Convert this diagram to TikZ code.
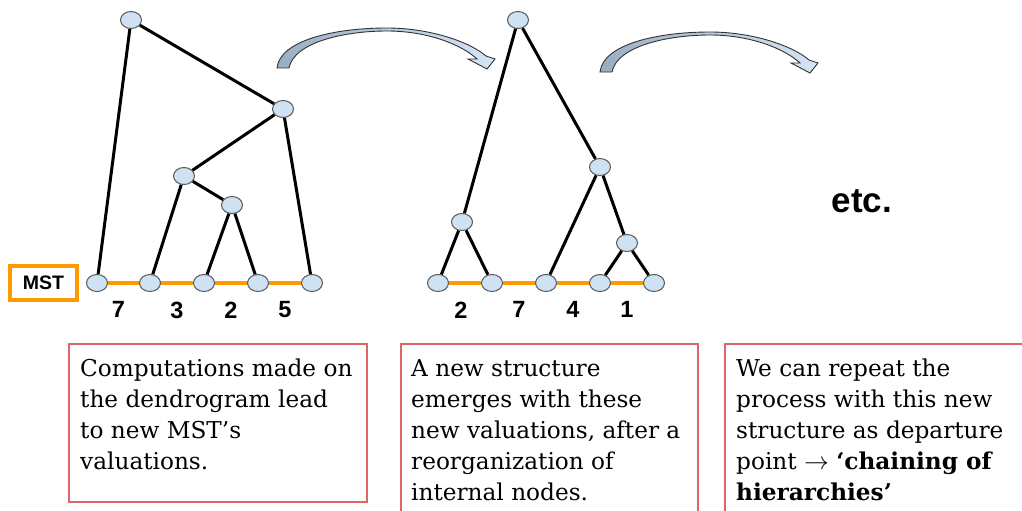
\documentclass[tikz,border=0pt]{standalone}
\usepackage{fontspec}
\setmainfont{DejaVu Serif}
\newfontfamily\labelfont{Liberation Sans}
\usepackage{tikz}
\usetikzlibrary{shapes.geometric,positioning}

\definecolor{vtxblue}{HTML}{CFE2F3}
\definecolor{mstorange}{HTML}{FF9900}
\definecolor{notered}{HTML}{E06666}
\definecolor{arrowdark}{HTML}{9AAEC3}
\definecolor{arrowlight}{HTML}{D4E5F6}

% outline of the bent block arrow (px units)
\newcommand{\bentarrowpath}{(277,68) .. controls (280,40) and (335,28) .. (387,28)
  .. controls (430,28) and (470,42) .. (486,56) -- (495,59) -- (487,69) -- (468,59)
  -- (477,59) .. controls (462,45) and (428,31) .. (387,31)
  .. controls (345,31) and (294,42) .. (289,68) -- cycle}

\begin{document}
\begin{tikzpicture}[
  x=1pt,y=-1pt,
  vtx/.style={ellipse,draw=black!65,fill=vtxblue,line width=1pt,
              minimum width=21pt,minimum height=17pt,inner sep=0pt},
  link/.style={line width=3pt},
  mst/.style={draw=mstorange,line width=3.2pt},
  num/.style={font=\labelfont\bfseries\fontsize{23.5}{23.5}\selectfont,inner sep=0pt},
  note/.style={draw=notered,line width=1.8pt,anchor=north west,inner sep=0pt},
  notetext/.style={anchor=north west,align=left,inner sep=0pt,
                   font=\fontsize{23.2}{31}\selectfont},
  bentarrow/.style={draw=black!80,line width=0.9pt,left color=arrowdark,right color=arrowlight}
]
\fill[white] (0,0) rectangle (1022,511);
\useasboundingbox (0,0) rectangle (1022,511);

% first dendrogram
\node[vtx] (a1) at (97,283) {};
\node[vtx] (a2) at (150,283) {};
\node[vtx] (a3) at (204,283) {};
\node[vtx] (a4) at (258,283) {};
\node[vtx] (a5) at (312,283) {};
\node[vtx] (r1) at (131,20) {};
\node[vtx] (r2) at (283,109) {};
\node[vtx] (r3) at (184,176) {};
\node[vtx] (r4) at (232,205) {};

\draw[link] (r1) -- (a1);
\draw[link] (r1) -- (r2);
\draw[link] (r2) -- (r3);
\draw[link] (r2) -- (a5);
\draw[link] (r3) -- (a2);
\draw[link] (r3) -- (r4);
\draw[link] (r4) -- (a3);
\draw[link] (r4) -- (a4);

\draw[mst] (a1) -- node[num,below=17pt,xshift=-5pt] (w1) {7} (a2)
               -- node[num,below=17pt] (w2) {3} (a3)
               -- node[num,below=17pt] (w3) {2} (a4)
               -- node[num,below=17pt] (w4) {5} (a5);

\node[mst,minimum width=67pt,minimum height=34pt,inner sep=0pt,
      font=\labelfont\bfseries\fontsize{19.5}{19.5}\selectfont] (mstbox) at (43.5,283)
      {\raisebox{-5pt}{MST}};

% second dendrogram
\node[vtx] (b1) at (438,283) {};
\node[vtx] (b2) at (492,283) {};
\node[vtx] (b3) at (546,283) {};
\node[vtx] (b4) at (600,283) {};
\node[vtx] (b5) at (654,283) {};
\node[vtx] (s1) at (518,20) {};
\node[vtx] (s2) at (462,222) {};
\node[vtx] (s3) at (600,167) {};
\node[vtx] (s4) at (627,243) {};

\draw[link] (s1) -- (s2);
\draw[link] (s1) -- (s3);
\draw[link] (s2) -- (b1);
\draw[link] (s2) -- (b2);
\draw[link] (s3) -- (b3);
\draw[link] (s3) -- (s4);
\draw[link] (s4) -- (b4);
\draw[link] (s4) -- (b5);

\draw[mst] (b1) -- node[num,below=17pt,xshift=-4pt] (v1) {2} (b2)
               -- node[num,below=17pt] (v2) {7} (b3)
               -- node[num,below=17pt] (v3) {4} (b4)
               -- node[num,below=17pt] (v4) {1} (b5);

% bent arrows
\path[bentarrow] \bentarrowpath;
\begin{scope}[shift={(323,4)}]
\path[bentarrow] \bentarrowpath;
\end{scope}

\node[font=\labelfont\bfseries\fontsize{35}{35}\selectfont] (etc) at (862,201) {etc.};

% comments below
\node[note,minimum width=298pt,minimum height=158pt] (box1) at (68,343) {};
\node[note,minimum width=297pt,minimum height=180pt] (box2) at (400,343) {};
\node[note,minimum width=310pt,minimum height=180pt] (box3) at (724,343) {};

\node[notetext] (txt1) at ([shift={(12pt,-16pt)}]box1.north west)
  {Computations made on\\the dendrogram lead\\to new MST’s\\valuations.};
\node[notetext] (txt2) at ([shift={(11pt,-16pt)}]box2.north west)
  {A new structure\\emerges with these\\new valuations, after a\\reorganization of\\internal nodes.};
\node[notetext] (txt3) at ([shift={(12pt,-16pt)}]box3.north west)
  {We can repeat the\\process with this new\\structure as departure\\point $\rightarrow$ \textbf{‘chaining of}\\\textbf{hierarchies’}};
\end{tikzpicture}
\end{document}
